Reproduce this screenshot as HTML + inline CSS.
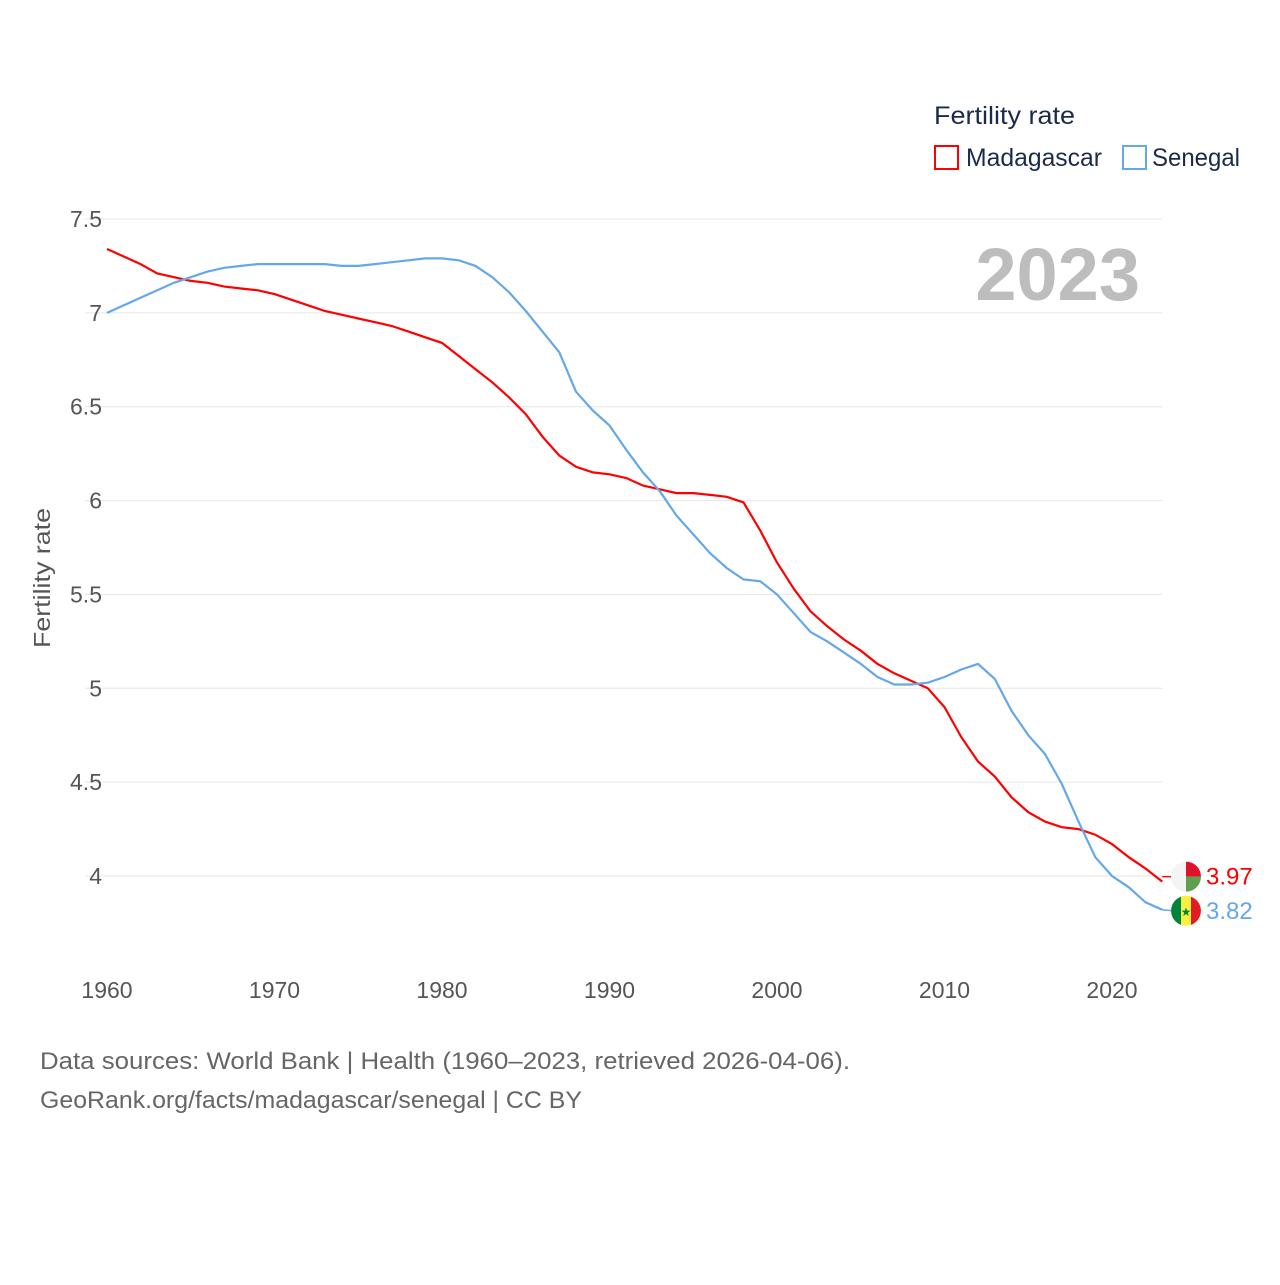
<!DOCTYPE html>
<html><head><meta charset="utf-8"><style>
body{margin:0;background:#fff;font-family:"Liberation Sans",sans-serif}
</style></head><body>
<svg id="chart" width="1280" height="1280" xmlns="http://www.w3.org/2000/svg" font-family="Liberation Sans, sans-serif">
<g id="grid"></g>
<g id="ylabels" fill="#555" font-size="23" text-anchor="end"></g>
<g id="xlabels" fill="#555" font-size="23" text-anchor="middle"></g>
<text transform="translate(50,578) rotate(-90)" text-anchor="middle" fill="#555" font-size="23" textLength="140" lengthAdjust="spacingAndGlyphs">Fertility rate</text>
<text x="1140" y="300" text-anchor="end" fill="#bdbdbd" font-size="74" font-weight="bold">2023</text>
<text x="934" y="124" fill="#1a2b4a" font-size="25" textLength="141" lengthAdjust="spacingAndGlyphs">Fertility rate</text>
<rect x="935" y="146" width="23" height="23" fill="none" stroke="#f00" stroke-width="2"/>
<text x="966" y="166" fill="#1a2b4a" font-size="25" textLength="136" lengthAdjust="spacingAndGlyphs">Madagascar</text>
<rect x="1123" y="146" width="23" height="23" fill="none" stroke="#64a8ea" stroke-width="2"/>
<text x="1152" y="166" fill="#1a2b4a" font-size="25" textLength="88" lengthAdjust="spacingAndGlyphs">Senegal</text>
<g id="series"></g>
<text x="40" y="1069" fill="#666" font-size="24" textLength="810" lengthAdjust="spacingAndGlyphs">Data sources: World Bank | Health (1960–2023, retrieved 2026-04-06).</text>
<text x="40" y="1108" fill="#666" font-size="24" textLength="542" lengthAdjust="spacingAndGlyphs">GeoRank.org/facts/madagascar/senegal | CC BY</text>
</svg>
<script>
const years = []; for (let y=1960;y<=2023;y++) years.push(y);
const madagascar = [7.34,7.30,7.26,7.21,7.19,7.17,7.16,7.14,7.13,7.12,7.10,7.07,7.04,7.01,6.99,6.97,6.95,6.93,6.90,6.87,6.84,6.77,6.70,6.63,6.55,6.46,6.34,6.24,6.18,6.15,6.14,6.12,6.08,6.06,6.04,6.04,6.03,6.02,5.99,5.84,5.67,5.53,5.41,5.33,5.26,5.20,5.13,5.08,5.04,5.00,4.90,4.74,4.61,4.53,4.42,4.34,4.29,4.26,4.25,4.22,4.17,4.10,4.04,3.97];
const senegal = [7.00,7.04,7.08,7.12,7.16,7.19,7.22,7.24,7.25,7.26,7.26,7.26,7.26,7.26,7.25,7.25,7.26,7.27,7.28,7.29,7.29,7.28,7.25,7.19,7.11,7.01,6.90,6.79,6.58,6.48,6.40,6.27,6.15,6.05,5.92,5.82,5.72,5.64,5.58,5.57,5.50,5.40,5.30,5.25,5.19,5.13,5.06,5.02,5.02,5.03,5.06,5.10,5.13,5.05,4.88,4.75,4.65,4.49,4.29,4.10,4.00,3.94,3.86,3.82];
const yTicks = [4,4.5,5,5.5,6,6.5,7,7.5];
const xTicks = [1960,1970,1980,1990,2000,2010,2020];
const NS="http://www.w3.org/2000/svg";
const X = v => 107 + (v-1960)*(1005/60);
const Y = v => 876 - (v-4)*(657/3.5);
function mk(tag, attrs, parent){const e=document.createElementNS(NS,tag);for(const k in attrs)e.setAttribute(k,attrs[k]);parent.appendChild(e);return e;}
const grid=document.getElementById('grid'), yl=document.getElementById('ylabels'), xl=document.getElementById('xlabels'), series=document.getElementById('series');
yTicks.forEach(t=>{
  const l=mk('line',{x1:85,x2:1162,y1:Y(t),y2:Y(t),stroke:'#e6e6e6','stroke-width':1},grid);
  
  
  const tx=mk('text',{x:102,y:Y(t)+8},yl); tx.textContent=String(t);
  
  
});
xTicks.forEach(t=>{
  const tx=mk('text',{x:X(t),y:998},xl); tx.textContent=String(t);
  
  
});
function line(vals,color,name){
  const d=vals.map((v,i)=>(i?'L':'M')+X(years[i]).toFixed(1)+','+Y(v).toFixed(1)).join('');
  const p=mk('path',{d:d,fill:'none',stroke:color,'stroke-width':2.2},series);
  
  
}
line(madagascar,'#f00','line-madagascar');
line(senegal,'#64a8ea','line-senegal');
const mEnd=madagascar[madagascar.length-1], sEnd=senegal[senegal.length-1];
const ex=X(2023);
const cx=1186;
// Madagascar flag
const gm=mk('g',{},series);


const cy1=Y(mEnd)-5;
mk('line',{x1:ex,x2:ex+10,y1:cy1,y2:cy1,stroke:'#f00','stroke-width':1.5},gm);
mk('path',{d:`M${cx},${cy1-15}A15,15 0 0 0 ${cx},${cy1+15}Z`,fill:'#f4f4f4'},gm);
mk('path',{d:`M${cx},${cy1-15}A15,15 0 0 1 ${cx+15},${cy1}L${cx},${cy1}Z`,fill:'#e0112b'},gm);
mk('path',{d:`M${cx},${cy1}L${cx+15},${cy1}A15,15 0 0 1 ${cx},${cy1+15}Z`,fill:'#5fa04e'},gm);
const tm=mk('text',{x:1206,y:cy1+8,fill:'#f00','font-size':24},series); tm.textContent=mEnd.toFixed(2);


// Senegal flag
const gs=mk('g',{},series);


const cy2=Y(sEnd)+1;
mk('line',{x1:ex,x2:ex+10,y1:Y(sEnd),y2:cy2,stroke:'#64a8ea','stroke-width':1.5},gs);
mk('circle',{cx:cx,cy:cy2,r:15,fill:'#fdef42'},gs);
mk('path',{d:`M${cx-5},${cy2-14.1}A15,15 0 0 0 ${cx-5},${cy2+14.1}Z`,fill:'#00853f'},gs);
mk('path',{d:`M${cx+5},${cy2-14.1}A15,15 0 0 1 ${cx+5},${cy2+14.1}Z`,fill:'#e31b23'},gs);
const st=mk('text',{x:cx,y:cy2+5,'text-anchor':'middle','font-size':12,fill:'#00853f'},gs); st.textContent='★';
const ts=mk('text',{x:1206,y:cy2+8,fill:'#64a8ea','font-size':24},series); ts.textContent=sEnd.toFixed(2);


</script>
</body></html>
